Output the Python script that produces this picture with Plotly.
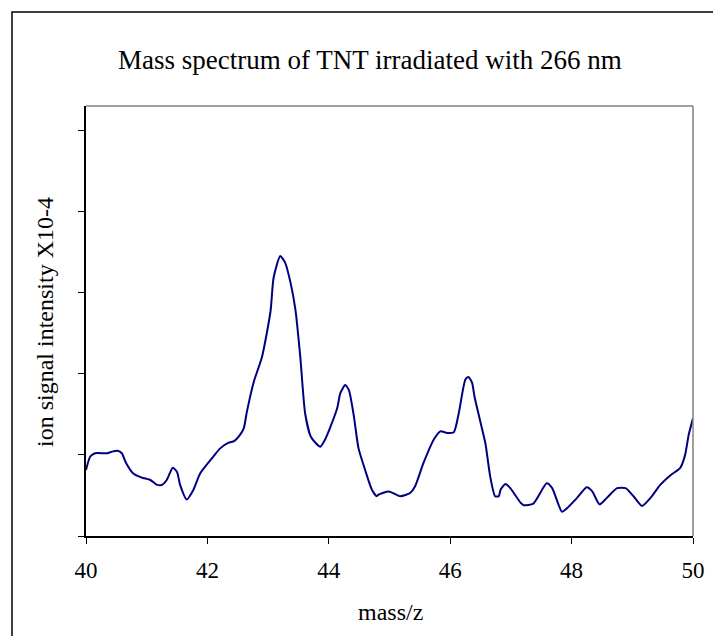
import plotly.graph_objects as go

mass = [40.00, 40.07, 40.15, 40.35, 40.43, 40.52, 40.59, 40.66, 40.78, 40.92,
        41.06, 41.17, 41.25, 41.33, 41.43, 41.50, 41.55, 41.66, 41.77, 41.88,
        42.10, 42.21, 42.35, 42.44, 42.54, 42.60, 42.65, 42.76, 42.90, 43.04,
        43.09, 43.20, 43.28, 43.37, 43.45, 43.53, 43.61, 43.70, 43.78, 43.86,
        43.94, 44.03, 44.14, 44.19, 44.27, 44.33, 44.41, 44.49, 44.60, 44.71,
        44.79, 44.82, 44.99, 45.18, 45.34, 45.42, 45.56, 45.73, 45.84, 45.95,
        46.06, 46.14, 46.25, 46.30, 46.36, 46.40, 46.49, 46.58, 46.66, 46.74,
        46.80, 46.83, 46.91, 46.99, 47.16, 47.21, 47.37, 47.59, 47.68, 47.84,
        47.92, 48.09, 48.25, 48.34, 48.46, 48.58, 48.75, 48.89, 49.02, 49.16,
        49.30, 49.46, 49.63, 49.79, 49.87, 49.93, 50.00]
signal = [0.815, 0.98, 1.02, 1.02, 1.04, 1.05, 1.02, 0.90, 0.77, 0.72,
          0.69, 0.63, 0.63, 0.69, 0.84, 0.79, 0.63, 0.45, 0.57, 0.77,
          0.98, 1.08, 1.15, 1.17, 1.25, 1.33, 1.53, 1.89, 2.21, 2.77,
          3.18, 3.45, 3.37, 3.12, 2.79, 2.21, 1.51, 1.23, 1.15, 1.10,
          1.19, 1.35, 1.58, 1.76, 1.86, 1.80, 1.49, 1.08, 0.81, 0.57,
          0.49, 0.51, 0.55, 0.49, 0.53, 0.61, 0.90, 1.19, 1.29, 1.27,
          1.28, 1.51, 1.93, 1.96, 1.89, 1.72, 1.43, 1.14, 0.73, 0.49,
          0.49, 0.57, 0.64, 0.59, 0.41, 0.38, 0.40, 0.65, 0.59, 0.30,
          0.34, 0.47, 0.60, 0.55, 0.39, 0.47, 0.59, 0.59, 0.49, 0.37,
          0.47, 0.63, 0.75, 0.84, 1.00, 1.25, 1.45]

title_text = "Mass spectrum of TNT irradiated with 266 nm"
x_title = "mass/z"
y_title = "ion signal intensity X10-4"
x_ticks = [40, 42, 44, 46, 48, 50]
y_ticks = [0, 1, 2, 3, 4, 5]

FONT = "Liberation Serif"

fig = go.Figure()
fig.add_trace(go.Scatter(x=mass, y=signal, mode="lines",
                         line=dict(color="#000080", width=2, shape="spline", smoothing=0.6),
                         showlegend=False, hoverinfo="x+y"))

W, H = 713, 636
L, R, T, B = 86, 20, 106, 100
pw, ph = W - L - R, H - T - B

def px_x(p):
    return (p - L) / pw

def px_y(p):
    return (H - B - p) / ph

fig.update_layout(
    width=W, height=H,
    margin=dict(l=L, r=R, t=T, b=B, autoexpand=False),
    paper_bgcolor="white", plot_bgcolor="white",
    font=dict(family=FONT, size=23, color="black"),
    xaxis=dict(range=[40, 50], tickvals=x_ticks, ticktext=[str(v) for v in x_ticks],
               showgrid=False, zeroline=False, showline=True, linecolor="black", linewidth=1.5,
               ticks="outside", ticklen=6, tickcolor="black", tickwidth=1,
               ticklabelstandoff=7,
               tickfont=dict(family=FONT, size=23, color="black"), automargin=False),
    yaxis=dict(range=[0, 5.3], tickvals=y_ticks, showticklabels=False,
               showgrid=False, zeroline=False, showline=True, linecolor="black", linewidth=1.5,
               ticks="outside", ticklen=6, tickcolor="black", tickwidth=1, automargin=False),
    shapes=[
        dict(type="line", xref="paper", yref="paper", x0=0, x1=1, y0=1, y1=1,
             line=dict(color="#808080", width=1.5)),
        dict(type="line", xref="paper", yref="paper", x0=1, x1=1, y0=0, y1=1,
             line=dict(color="#808080", width=1.5)),
        dict(type="rect", xref="paper", yref="paper",
             x0=px_x(12), x1=px_x(760), y0=px_y(12), y1=px_y(700),
             line=dict(color="black", width=1.5), fillcolor="rgba(0,0,0,0)", layer="above"),
    ],
    annotations=[
        dict(text=title_text, xref="paper", yref="paper", x=px_x(370), y=px_y(60),
             xanchor="center", yanchor="middle", showarrow=False,
             font=dict(family=FONT, size=27)),
        dict(text=x_title, xref="paper", yref="paper", x=px_x(390), y=px_y(612),
             xanchor="center", yanchor="middle", showarrow=False,
             font=dict(family=FONT, size=24)),
        dict(text=y_title, xref="paper", yref="paper", x=px_x(45), y=px_y(322),
             xanchor="center", yanchor="middle", showarrow=False, textangle=-90,
             font=dict(family=FONT, size=24)),
    ],
)

fig.write_html("out.html")
